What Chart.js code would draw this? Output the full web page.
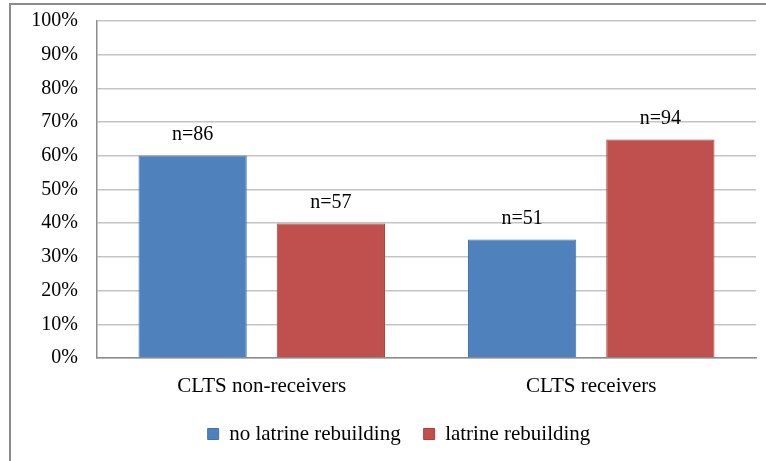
<!DOCTYPE html>
<html>
<head>
<meta charset="utf-8">
<script src="https://cdn.jsdelivr.net/npm/chart.js@4/dist/chart.umd.min.js"></script>
<style>
  html, body { margin: 0; padding: 0; background: #fff; }
  #wrap { position: relative; width: 766px; height: 461px; }
</style>
</head>
<body>
<div id="wrap"><canvas id="c" width="766" height="461"></canvas></div>
<script>
const categories = ["CLTS non-receivers", "CLTS receivers"];
const seriesNames = ["no latrine rebuilding", "latrine rebuilding"];
const noRebuilding = [60.1, 35.2];
const rebuilding = [39.9, 64.8];
const noRebuildingN = [86, 51];
const rebuildingN = [57, 94];
const yTicks = [0, 10, 20, 30, 40, 50, 60, 70, 80, 90, 100];

const FONT = "'Liberation Serif', 'Times New Roman', serif";

const frame = {
  id: 'frame',
  beforeDraw(chart) {
    const ctx = chart.ctx;
    ctx.save();
    ctx.fillStyle = '#fff';
    ctx.fillRect(0, 0, chart.width, chart.height);
    ctx.strokeStyle = '#8c8c8c';
    ctx.lineWidth = 2;
    ctx.beginPath();
    ctx.moveTo(10, chart.height);
    ctx.lineTo(10, 4);
    ctx.lineTo(chart.width, 4);
    ctx.stroke();
    ctx.restore();
  }
};

const legendShift = {
  id: 'legendShift',
  afterLayout(chart) {
    if (chart.legend) { chart.legend.left += 7; chart.legend.right += 7; }
  }
};

const nLabels = {
  id: 'nLabels',
  afterDatasetsDraw(chart) {
    const ctx = chart.ctx;
    ctx.save();
    ctx.font = '20px ' + FONT;
    ctx.fillStyle = '#000';
    ctx.textAlign = 'center';
    ctx.textBaseline = 'middle';
    chart.data.datasets.forEach((ds, di) => {
      const meta = chart.getDatasetMeta(di);
      meta.data.forEach((bar, i) => {
        ctx.fillText('n=' + ds.counts[i], bar.x, bar.y - 20.5);
      });
    });
    ctx.restore();
  }
};

new Chart(document.getElementById('c'), {
  type: 'bar',
  data: {
    labels: categories,
    datasets: [
      { label: seriesNames[0], data: noRebuilding, counts: noRebuildingN,
        backgroundColor: '#4F81BD', borderColor: '#3F72B0', borderWidth: 1 },
      { label: seriesNames[1], data: rebuilding, counts: rebuildingN,
        backgroundColor: '#C0504D', borderColor: '#B03E3B', borderWidth: 1 }
    ]
  },
  options: {
    responsive: false,
    animation: false,
    devicePixelRatio: 1,
    layout: { padding: { left: 28, right: 10, top: 21, bottom: 6.5 } },
    datasets: { bar: { categoryPercentage: 0.839, barPercentage: 0.783 } },
    plugins: {
      legend: {
        position: 'bottom',
        labels: {
          boxWidth: 11, boxHeight: 11, padding: 23,
          color: '#000',
          font: { family: FONT, size: 21 }
        }
      },
      tooltip: { enabled: false }
    },
    scales: {
      x: {
        grid: { display: false, drawTicks: false },
        border: { display: true, color: '#8c8c8c', width: 1.5 },
        ticks: { color: '#000', font: { family: FONT, size: 21 }, padding: 16, maxRotation: 0 },
        afterFit(s) { s.height = 42.5; s.paddingLeft = 0; s.paddingRight = 0; }
      },
      y: {
        min: 0, max: 100,
        afterBuildTicks(s) { s.ticks = yTicks.map(v => ({ value: v })); },
        grid: { color: '#c4c4c4', lineWidth: 1.5, drawTicks: false },
        border: { display: true, color: '#8c8c8c', width: 1.5 },
        ticks: { color: '#000', font: { family: FONT, size: 20 }, padding: 19,
                 callback: v => v + '%' },
        afterFit(s) { s.width = 69; s.paddingTop = 0; s.paddingBottom = 0; }
      }
    }
  },
  plugins: [frame, legendShift, nLabels]
});
</script>
</body>
</html>
